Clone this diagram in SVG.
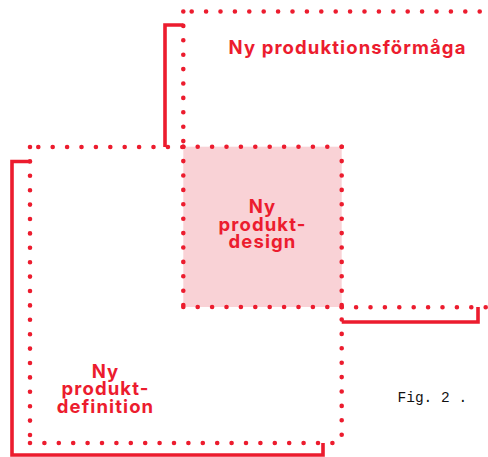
<svg xmlns="http://www.w3.org/2000/svg" width="488" height="457" viewBox="0 0 488 457">
  <style>
    .dots { fill: none; stroke: #EC1C2E; stroke-width: 4.6; stroke-linecap: round; stroke-dasharray: 0 14.4; }
    .bracket { fill: none; stroke: #EC1C2E; stroke-width: 3.6; stroke-linejoin: miter; stroke-linecap: butt; }
    .label { font-family: Inter, "Open Sans", "Liberation Sans", sans-serif; font-weight: 700; font-size: 18.5px; letter-spacing: 1.1px; fill: #EC1C2E; text-anchor: middle; }
    .fig { font-family: "Liberation Mono", "DejaVu Sans Mono", monospace; font-size: 14.5px; fill: #111; }
  </style>
  <rect width="488" height="457" fill="#fff"/>

  <!-- shaded overlap area -->
  <rect id="overlap-fill" x="183.3" y="146.7" width="158.4" height="160.3" fill="#F9D2D6"/>

  <g id="capability">
    <path class="dots" d="M191.7,11.5 H488"/>
    <path class="dots" d="M183.3,11.5 V147"/>
    <text class="label" x="347.5" y="54">Ny produktionsförmåga</text>
  </g>

  <g id="definition">
    <path class="dots" d="M30,147 V443"/>
    <path class="dots" d="M38.3,147 H183.3"/>
    <path class="dots" d="M30,443 H334"/>
    <text class="label"><tspan x="105.5" y="377.5">Ny</tspan><tspan x="105.5" y="395">produkt-</tspan><tspan x="105.5" y="412.5">definition</tspan></text>
  </g>

  <g id="design">
    <path class="dots" d="M183.3,146.7 H341.7"/>
    <path class="dots" d="M183.3,146.7 V307"/>
    <path class="dots" d="M183.3,307 H341.7"/>
    <path class="dots" d="M341.7,146.7 V443"/>
    <text class="label"><tspan x="262.5" y="213">Ny</tspan><tspan x="262.5" y="230.5">produkt-</tspan><tspan x="262.5" y="248">design</tspan></text>
  </g>

  <g id="extension">
    <path class="dots" d="M341.7,307.3 H488"/>
  </g>

  <g id="connectors">
    <path class="bracket" d="M183.3,25 H165 V147"/>
    <path class="bracket" d="M30,161.5 H12 V455 H323 V443"/>
    <path class="bracket" d="M341.7,322 H478 V307"/>
  </g>

  <text id="caption" class="fig" x="397.5" y="402">Fig. 2 .</text>
</svg>
